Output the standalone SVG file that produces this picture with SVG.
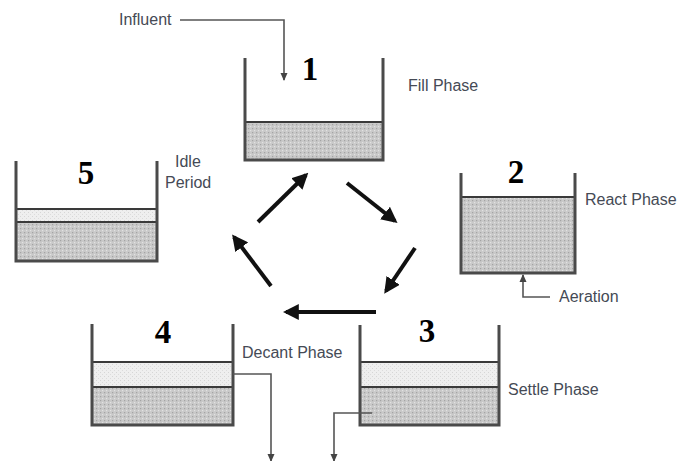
<svg xmlns="http://www.w3.org/2000/svg" width="678" height="461" viewBox="0 0 678 461">
<defs>
<pattern id="dots" width="4" height="4" patternUnits="userSpaceOnUse">
<rect width="4" height="4" fill="#c9c9c9"/>
<rect x="0" y="0" width="1.2" height="1.2" fill="#a4a4a4"/>
<rect x="2" y="2" width="1.2" height="1.2" fill="#e2e2e2"/>
</pattern>
<pattern id="light" width="4" height="4" patternUnits="userSpaceOnUse">
<rect width="4" height="4" fill="#efefef"/>
<rect x="0" y="0" width="1" height="1" fill="#d6d6d6"/>
<rect x="2" y="2" width="1" height="1" fill="#dcdcdc"/>
</pattern>
<marker id="big" markerWidth="4" markerHeight="4" refX="3.2" refY="2" orient="auto" markerUnits="strokeWidth">
<path d="M0,0 L4,2 L0,4 Z" fill="#111"/>
</marker>
<marker id="small" markerWidth="8" markerHeight="8" refX="7" refY="4" orient="auto" markerUnits="userSpaceOnUse">
<path d="M0,0.5 L8,4 L0,7.5 Z" fill="#444"/>
</marker>
</defs>
<style>
.wall{stroke:#4a4a4a;stroke-width:3;fill:none;stroke-linecap:butt}
.lvl{stroke:#3a3a3a;stroke-width:2;fill:none}
.lbl{font-family:"Liberation Sans",Arial,sans-serif;font-size:16px;fill:#454a55}
.num{font-family:"Liberation Serif","Times New Roman",serif;font-size:33px;font-weight:bold;fill:#000}
.cyc{stroke:#111;stroke-width:4;fill:none;marker-end:url(#big)}
.pipe{stroke:#555;stroke-width:1.6;fill:none}
</style>

<g id="tank1">
<rect x="245" y="122" width="138" height="38" fill="url(#dots)"/>
<line class="lvl" x1="245" y1="122" x2="383" y2="122" stroke-width="1.5"/>
<path class="wall" d="M245,58 V160 H383 V58"/>
<text class="num" x="310" y="80" text-anchor="middle">1</text>
<text class="lbl" x="408" y="91">Fill Phase</text>
</g>

<g id="tank2">
<rect x="461" y="197" width="114" height="76" fill="url(#dots)"/>
<line class="lvl" x1="461" y1="197" x2="575" y2="197" stroke-width="1.5"/>
<path class="wall" d="M461,173 V273 H575 V173"/>
<text class="num" x="516" y="183" text-anchor="middle">2</text>
<text class="lbl" x="585" y="205">React Phase</text>
</g>

<g id="tank3">
<rect x="360" y="362" width="139" height="25" fill="url(#light)"/>
<rect x="360" y="387" width="139" height="38" fill="url(#dots)"/>
<line class="lvl" x1="360" y1="362" x2="499" y2="362" stroke-width="1.5" stroke="#666"/>
<line class="lvl" x1="360" y1="387" x2="499" y2="387"/>
<path class="wall" d="M360,325 V425 H499 V325"/>
<text class="num" x="427" y="342" text-anchor="middle">3</text>
<text class="lbl" x="508" y="395">Settle Phase</text>
</g>

<g id="tank4">
<rect x="92" y="362" width="141" height="25" fill="url(#light)"/>
<rect x="92" y="387" width="141" height="38" fill="url(#dots)"/>
<line class="lvl" x1="92" y1="362" x2="233" y2="362" stroke-width="1.5" stroke="#666"/>
<line class="lvl" x1="92" y1="387" x2="233" y2="387"/>
<path class="wall" d="M92,324 V425 H233 V324"/>
<text class="num" x="163" y="343" text-anchor="middle">4</text>
<text class="lbl" x="242" y="358">Decant Phase</text>
</g>

<g id="tank5">
<rect x="16" y="209" width="141" height="13" fill="url(#light)"/>
<rect x="16" y="222" width="141" height="39" fill="url(#dots)"/>
<line class="lvl" x1="16" y1="209" x2="157" y2="209" stroke-width="1.5" stroke="#666"/>
<line class="lvl" x1="16" y1="222" x2="157" y2="222"/>
<path class="wall" d="M16,161 V261 H157 V161"/>
<text class="num" x="86" y="184" text-anchor="middle">5</text>
<text class="lbl" x="175" y="167">Idle</text>
<text class="lbl" x="165" y="188">Period</text>
</g>

<g id="influent">
<text class="lbl" x="119" y="25">Influent</text>
</g>
<g id="aeration">
<text class="lbl" x="559" y="302">Aeration</text>
</g>

<g id="connectors">
<path class="pipe" d="M180,20 H284 V80" marker-end="url(#small)"/>
<path class="pipe" d="M550,297 H523 V275" marker-end="url(#small)"/>
<path class="pipe" d="M233,374 H271 V461" marker-end="url(#small)"/>
<path class="pipe" d="M372,413 H334 V461" marker-end="url(#small)"/>
<line class="cyc" x1="258" y1="222" x2="306" y2="175"/>
<line class="cyc" x1="347" y1="183" x2="395" y2="221"/>
<line class="cyc" x1="415" y1="248" x2="386" y2="291"/>
<line class="cyc" x1="376" y1="312" x2="286" y2="312"/>
<line class="cyc" x1="271" y1="286" x2="234" y2="237"/>
</g>
</svg>
